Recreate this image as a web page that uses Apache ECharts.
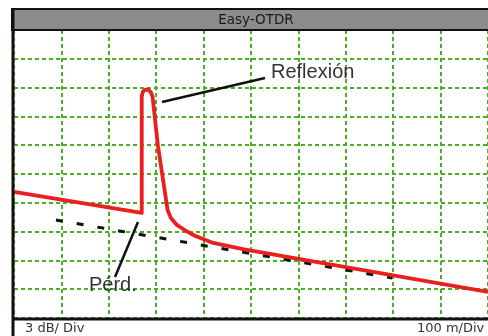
<!DOCTYPE html>
<html><head><meta charset="utf-8">
<script src="https://cdn.jsdelivr.net/npm/echarts@6/dist/echarts.min.js"></script>
<style>html,body{margin:0;padding:0;background:#fff;overflow:hidden}#c{width:488px;height:336px}</style>
</head><body><div id="c"></div>
<script>
// distance (m) and level (dB) of the OTDR trace
const traceDist = [0, 269.5, 269.5, 272.0, 277.0, 284.0, 289.0, 292.5, 303.5, 324, 331, 343.6, 362, 382.7, 417.7, 485.6, 1000];
const traceDb   = [13.13, 10.94, 23.1, 23.6, 23.78, 23.75, 23.5, 23.0, 18.0, 11.25, 10.42, 9.69, 9.11, 8.54, 7.86, 7.14, 2.71];
// extrapolated (ideal) fibre line
const idealDist = [88.5, 798];
const idealDb   = [10.21, 4.17];
const title = 'Easy-OTDR';
const yScaleLabel = '3 dB/ Div';
const xScaleLabel = '100 m/Div';
const reflLabel = 'Reflexión';
const lossLabel = 'Pérd.';

const chart = echarts.init(document.getElementById('c'), null, {renderer: 'canvas'});
const gridLine = {show: true, lineStyle: {color: '#4cae28', type: [4, 3], width: 2}};
chart.setOption({
  animation: false,
  backgroundColor: '#fff',
  grid: {left: 14, top: 30, width: 486, height: 288, show: false},
  xAxis: {type: 'value', min: 0, max: 1000, interval: 100, axisLine: {show: false}, axisTick: {show: false}, axisLabel: {show: false}, splitLine: gridLine},
  yAxis: {type: 'value', min: 0, max: 30, interval: 3, axisLine: {show: false}, axisTick: {show: false}, axisLabel: {show: false}, splitLine: gridLine},
  series: [
    {type: 'line', data: idealDist.map((d, i) => [d, idealDb[i]]), symbol: 'none',
     lineStyle: {color: '#111', width: 3, type: [7, 14]}, z: 3},
    {type: 'line', data: traceDist.map((d, i) => [d, traceDb[i]]), symbol: 'none',
     lineStyle: {color: '#e8201e', width: 3.8, join: 'round'}, z: 4}
  ],
  graphic: [
    {type: 'rect', shape: {x: 12, y: 9, width: 490, height: 21}, style: {fill: '#8c8c8c', stroke: '#111', lineWidth: 2}, z: 10},
    {type: 'text', x: 256, y: 20, style: {text: title, font: '13.5px "DejaVu Sans"', fill: '#1a1a1a', align: 'center', verticalAlign: 'middle'}, z: 11},
    {type: 'line', shape: {x1: 13, y1: 9, x2: 13, y2: 336}, style: {stroke: '#111', lineWidth: 3}, z: 10},
    {type: 'line', shape: {x1: 12, y1: 319, x2: 500, y2: 319}, style: {stroke: '#111', lineWidth: 3}, z: 10},
    {type: 'text', x: 25, y: 329, style: {text: yScaleLabel, font: '13px "DejaVu Sans"', fill: '#333', verticalAlign: 'middle'}, z: 11},
    {type: 'text', x: 417, y: 329, style: {text: xScaleLabel, font: '13px "DejaVu Sans"', fill: '#333', verticalAlign: 'middle'}, z: 11},
    {type: 'line', shape: {x1: 162, y1: 102, x2: 265, y2: 78}, style: {stroke: '#111', lineWidth: 2.5}, z: 10},
    {type: 'text', x: 271, y: 72, style: {text: reflLabel, font: '20px "Liberation Sans"', fill: '#333', verticalAlign: 'middle'}, z: 11},
    {type: 'line', shape: {x1: 138, y1: 222, x2: 115, y2: 277}, style: {stroke: '#111', lineWidth: 2.5}, z: 10},
    {type: 'text', x: 89, y: 285, style: {text: lossLabel, font: '20px "Liberation Sans"', fill: '#333', verticalAlign: 'middle'}, z: 11}
  ]
});
</script></body></html>
